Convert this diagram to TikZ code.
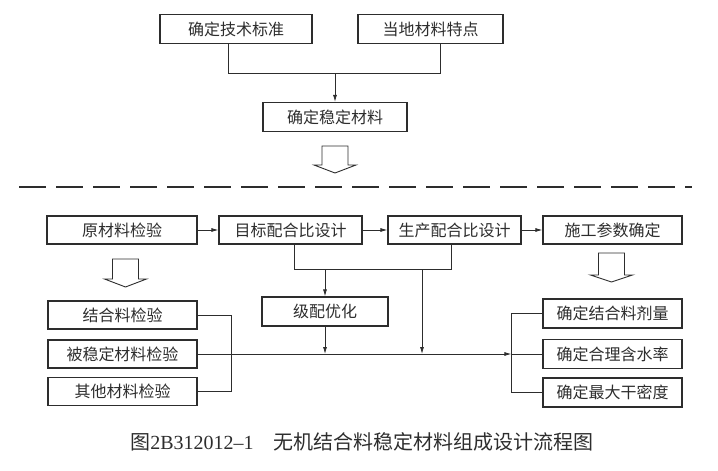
\documentclass[tikz,border=0pt]{standalone}
\usepackage{fontspec}
\usepackage{xcolor}
\usepackage{tikz}
\usetikzlibrary{arrows.meta,positioning,calc}
\newfontfamily\cjk{Noto Sans CJK SC}
\newfontfamily\latinserif{Liberation Serif}
\definecolor{ink}{RGB}{45,45,45}
\tikzset{
  box/.style={draw=ink,line width=1.1pt,inner sep=0pt,minimum height=29pt,
              text=ink,font=\cjk\fontsize{16}{18}\selectfont},
  link/.style={draw=ink,line width=0.8pt},
  tip/.style={-{Latex[length=7pt,width=4pt]}},
  hollow/.style={draw=ink,line width=0.9pt,fill=white}
}
\begin{document}
\begin{tikzpicture}[x=1pt,y=-1pt]
\useasboundingbox (0,0) rectangle (718,471);
% upper part
\node[box,minimum width=152pt] (std) at (236,29) {确定技术标准};
\node[box,minimum width=145pt] (local) at (430.5,29) {当地材料特点};
\node[box,minimum width=144pt] (mat) at (335,117) {确定稳定材料};
\draw[link] ([xshift=-8pt]std.south) -- ++(0,29) coordinate (jl)
  -| ([xshift=10pt]local.south);
\draw[link,tip] (jl -| mat.north) -- (mat.north);
% hollow arrows
\foreach \xc/\ya/\yb/\yc in {335/146/165/173, 125.5/259/279/287, 611.5/253/275/282}{
  \draw[hollow] (\xc-13,\ya) -- (\xc+13,\ya) -- (\xc+13,\yb) -- (\xc+21,\yb)
    -- (\xc,\yc) -- (\xc-21,\yb) -- (\xc-13,\yb) -- cycle;
}
% dashed divider
\draw[ink,line width=1.1pt,dash pattern=on 27pt off 10pt] (19,187) -- (692,187);
% main row
\node[box,minimum width=150pt,minimum height=28pt] (raw) at (122,230) {原材料检验};
\node[box,minimum width=143pt,minimum height=28pt] (target) at (290.5,230) {目标配合比设计};
\node[box,minimum width=133pt,minimum height=28pt] (prod) at (454.5,230) {生产配合比设计};
\node[box,minimum width=139pt,minimum height=28pt] (cons) at (612.5,230) {施工参数确定};
\draw[link,tip] (raw) -- (target);
\draw[link,tip] (target) -- (prod);
\draw[link,tip] (prod) -- (cons);
% gradation
\node[box,minimum width=126pt] (grad) at (325,311.5) {级配优化};
\draw[link] ([xshift=4pt]target.south) -- ++(0,25) coordinate (jm)
  -| ([xshift=-3pt]prod.south);
\draw[link,tip] (jm -| grad.north) -- (grad.north);
% left column
\node[box,minimum width=149pt,minimum height=28pt] (binder) at (122.5,315) {结合料检验};
\node[box,minimum width=149pt,minimum height=28pt] (stab) at (122.5,354) {被稳定材料检验};
\node[box,minimum width=149pt,minimum height=28pt] (other) at (122.5,391.5) {其他材料检验};
\draw[link] (binder.east) -- ++(34,0) coordinate (lb) |- (other.east);
% right column
\node[box,minimum width=139pt] (dose) at (612.5,313.5) {确定结合料剂量};
\node[box,minimum width=139pt] (water) at (612.5,354) {确定合理含水率};
\node[box,minimum width=139pt] (dens) at (612.5,392.5) {确定最大干密度};
\draw[link] (dose.west) -- ++(-31,0) coordinate (rb) |- (dens.west);
\draw[link] (rb |- water.west) -- (water.west);
% collecting line
\draw[link,tip] (stab.east) -- (rb |- water.west);
\draw[link,tip] (grad.south) -- (grad.south |- stab.east);
\coordinate (drop) at (422,0);
\draw[link,tip] (drop |- jm) -- (drop |- stab.east);
% caption
\node[text=ink,font=\fontsize{20}{24}\selectfont] (cap) at (362,442)
  {\cjk 图\latinserif 2B312012–1\quad\cjk 无机结合料稳定材料组成设计流程图};
\end{tikzpicture}
\end{document}
